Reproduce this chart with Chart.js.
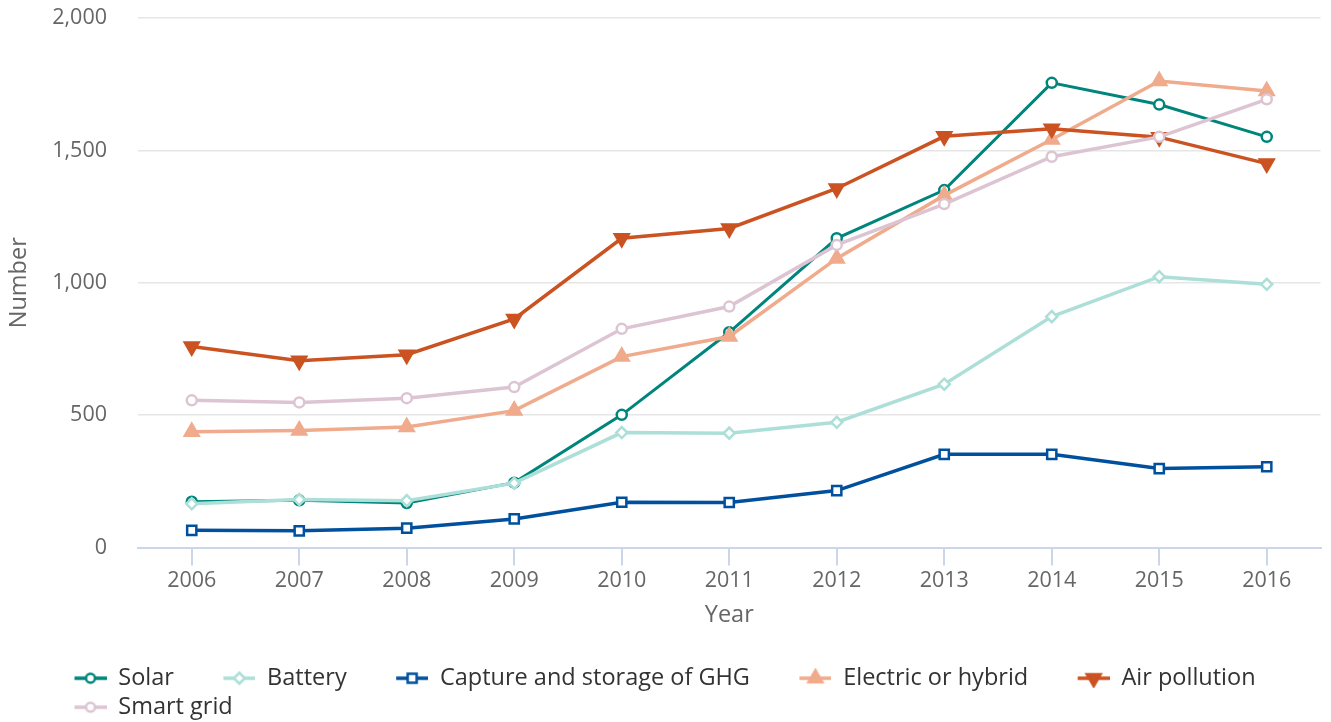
<!DOCTYPE html>
<html>
<head>
<meta charset="utf-8">
<script src="https://cdn.jsdelivr.net/npm/chart.js@4.4.0/dist/chart.umd.min.js"></script>
<style>
  html, body { margin: 0; padding: 0; background: #fff; overflow: hidden; }
  #wrap { position: relative; width: 1331px; height: 729px; }
</style>
</head>
<body>
<div id="wrap"><canvas id="chart"></canvas></div>
<script>
// Categories and series
const years = ['2006', '2007', '2008', '2009', '2010', '2011', '2012', '2013', '2014', '2015', '2016'];
const solar = [173, 178, 168, 245, 501, 813, 1168, 1350, 1755, 1673, 1551];
const battery = [165, 181, 177, 243, 434, 432, 473, 617, 872, 1023, 994];
const captureGhg = [65, 63, 73, 108, 171, 170, 215, 352, 352, 298, 305];
const electricHybrid = [437, 442, 455, 517, 721, 797, 1092, 1330, 1541, 1762, 1724];
const airPollution = [759, 705, 728, 863, 1168, 1205, 1356, 1553, 1582, 1550, 1450];
const smartGrid = [556, 548, 564, 606, 826, 910, 1143, 1297, 1476, 1551, 1693];
const yTicks = [0, 500, 1000, 1500, 2000];

const FONT = "'Open Sans', 'Noto Sans', sans-serif";
Chart.defaults.font.family = FONT;

// Small canvas used as the legend symbol: a short line with the marker on it
// (blank space on the left makes the gap between legend items)
function makeLegendSymbol(color, style, lineWidth) {
  const c = document.createElement('canvas');
  c.width = 76;
  c.height = 20;
  const g = c.getContext('2d');
  g.strokeStyle = color;
  g.lineWidth = lineWidth;
  g.beginPath();
  g.moveTo(44, 10);
  g.lineTo(76, 10);
  g.stroke();

  const x = 60, y = 10;
  g.lineWidth = 2.5;
  g.fillStyle = '#fff';
  g.beginPath();
  if (style === 'circle') {
    g.arc(x, y, 4.5, 0, Math.PI * 2);
  } else if (style === 'rect') {
    g.rect(x - 4.5, y - 4.5, 9, 9);
  } else if (style === 'rectRot') {
    g.moveTo(x, y - 5.5); g.lineTo(x + 5.5, y); g.lineTo(x, y + 5.5); g.lineTo(x - 5.5, y); g.closePath();
  } else if (style === 'triangle') {
    g.fillStyle = color;
    g.moveTo(x, y - 8); g.lineTo(x + 7, y + 4); g.lineTo(x - 7, y + 4); g.closePath();
  } else if (style === 'triangleDown') {
    g.fillStyle = color;
    g.moveTo(x, y + 8); g.lineTo(x + 7, y - 4); g.lineTo(x - 7, y - 4); g.closePath();
  }
  g.fill();
  g.stroke();
  return c;
}

function lineSeries(label, data, color, style, opts) {
  const filled = style === 'triangle';
  return Object.assign({
    label: label,
    data: data,
    borderColor: color,
    backgroundColor: color,
    borderWidth: 3.5,
    tension: 0,
    pointStyle: style,
    pointRadius: 5,
    pointHoverRadius: 5,
    pointBorderWidth: 2.5,
    pointBorderColor: color,
    pointBackgroundColor: filled ? color : '#fff'
  }, opts || {});
}

const datasets = [
  lineSeries('Solar', solar, '#00857c', 'circle', { borderWidth: 3, order: 6 }),
  lineSeries('Battery', battery, '#acdfd8', 'rectRot', { pointRadius: 5.5, pointHoverRadius: 5.5, order: 5 }),
  lineSeries('Capture and storage of GHG', captureGhg, '#00509d', 'rect', { pointRadius: 6.5, pointHoverRadius: 6.5, order: 4 }),
  lineSeries('Electric or hybrid', electricHybrid, '#efab8c', 'triangle', { pointRadius: 8, pointHoverRadius: 8, order: 3 }),
  lineSeries('Air pollution', airPollution, '#cb5221', 'triangle', { pointRadius: 8, pointHoverRadius: 8, rotation: 180, order: 2 }),
  lineSeries('Smart grid', smartGrid, '#ddc4d2', 'circle', { order: 1 })
];

const legendSymbols = [
  makeLegendSymbol('#00857c', 'circle', 3.5),
  makeLegendSymbol('#acdfd8', 'rectRot', 3.5),
  makeLegendSymbol('#00509d', 'rect', 3.5),
  makeLegendSymbol('#efab8c', 'triangle', 3.5),
  makeLegendSymbol('#cb5221', 'triangleDown', 3.5),
  makeLegendSymbol('#ddc4d2', 'circle', 3.5)
];

new Chart(document.getElementById('chart'), {
  type: 'line',
  data: {
    labels: years,
    datasets: datasets
  },
  options: {
    responsive: true,
    maintainAspectRatio: false,
    animation: false,
    events: [],
    layout: {
      padding: { left: 25, right: 5, top: 18, bottom: 0 }
    },
    plugins: {
      tooltip: { enabled: false },
      legend: {
        position: 'bottom',
        align: 'start',
        labels: {
          usePointStyle: true,
          pointStyleWidth: 76,
          padding: 5.5,
          color: '#333333',
          font: { size: 23.5 },
          sort: (a, b) => a.datasetIndex - b.datasetIndex,
          generateLabels: function(chart) {
            const items = Chart.defaults.plugins.legend.labels.generateLabels(chart);
            items.forEach(item => {
              item.pointStyle = legendSymbols[item.datasetIndex];
              item.rotation = 0;
            });
            return items;
          }
        }
      }
    },
    scales: {
      x: {
        type: 'category',
        offset: true,
        afterFit: function(scale) { scale.height = 113.5; },
        grid: {
          drawOnChartArea: false,
          drawTicks: true,
          tickLength: 18,
          color: '#ccd6eb',
          lineWidth: 2
        },
        border: { display: true, color: '#ccd6eb', width: 2 },
        ticks: {
          color: '#666666',
          padding: 2,
          maxRotation: 0,
          font: { size: 21.5 }
        },
        title: {
          display: true,
          text: 'Year',
          color: '#666666',
          font: { size: 23.5 },
          padding: { top: 0, bottom: 32 }
        }
      },
      y: {
        min: 0,
        max: 2000,
        afterFit: function(scale) {
          scale.width = 113;
          scale.paddingTop = 0;
          scale.paddingBottom = 0;
        },
        afterBuildTicks: function(scale) {
          scale.ticks = yTicks.map(v => ({ value: v }));
        },
        grid: {
          color: '#e6e6e6',
          lineWidth: 1.5,
          drawTicks: false
        },
        border: { display: false },
        ticks: {
          color: '#666666',
          padding: 31,
          font: { size: 21.5 },
          callback: function(value) {
            return value.toLocaleString('en-US');
          }
        },
        title: {
          display: true,
          text: 'Number',
          color: '#666666',
          font: { size: 23.5 },
          padding: { top: -20, bottom: 0 }
        }
      }
    }
  }
});
</script>
</body>
</html>
